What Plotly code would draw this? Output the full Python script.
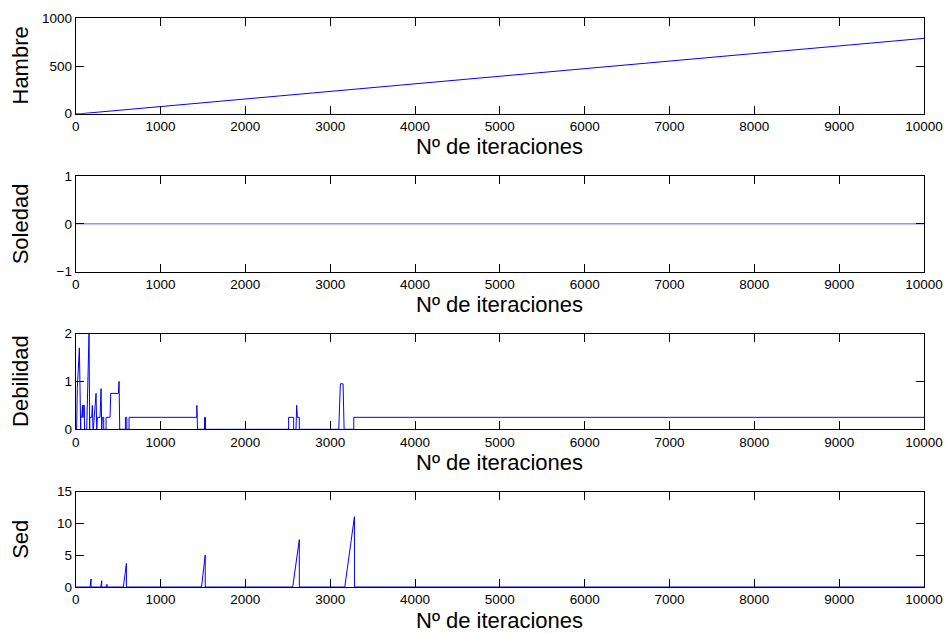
import plotly.graph_objects as go

W, H = 947, 633

# ---------------- data ----------------
x_ticks = [0, 1000, 2000, 3000, 4000, 5000, 6000, 7000, 8000, 9000, 10000]

hambre_x = [0, 60, 10000]
hambre_y = [0, 0, 790]

soledad_x = [0, 10000]
soledad_y = [0, 0]

debilidad_x = [0, 11, 19, 43, 59, 59, 72, 74, 80, 82, 88, 90, 102, 104, 130, 157, 165, 165,
               189, 196, 204, 208, 240, 248, 256, 287, 299, 307, 314, 330, 330, 358, 358,
               405, 413, 503, 511, 519, 586, 586, 602, 602, 629, 629, 1428, 1428, 1436,
               1519, 1519, 1530, 1530, 2510, 2510, 2569, 2569, 2597, 2605, 2613, 2636,
               2636, 3101, 3120, 3152, 3164, 3278, 3278, 10000]
debilidad_y = [0, 0, 0.85, 1.7, 0, 0.25, 0.25, 0.5, 0.5, 0.25, 0.25, 0.5, 0.5, 0, 0, 2.0, 0, 0.25,
               0.25, 0.5, 0, 0, 0.75, 0, 0.25, 0.25, 0.85, 0, 0.25, 0.25, 0, 0, 0.25,
               0.25, 0.75, 0.75, 1.0, 0, 0, 0.25, 0.25, 0, 0, 0.25, 0.25, 0.5, 0,
               0, 0.25, 0.25, 0, 0, 0.25, 0.25, 0, 0, 0.5, 0.25, 0.25,
               0, 0, 0.95, 0.95, 0, 0, 0.25, 0.25]

sed_x = [0, 169, 181, 181, 295, 307, 307, 358, 370, 370, 562, 598, 598, 1483, 1527, 1527,
         2558, 2636, 2636, 3172, 3286, 3286, 10000]
sed_y = [0, 0, 1.26, 0, 0, 1.0, 0, 0, 0.42, 0, 0, 3.73, 0, 0, 5.04, 0,
         0, 7.45, 0, 0, 11.07, 0, 0]

y_labels = ["Hambre", "Soledad", "Debilidad", "Sed"]
y_ranges = [[0, 1000], [-1, 1], [0, 2], [0, 15]]
y_ticks = [[0, 500, 1000], [-1, 0, 1], [0, 1, 2], [0, 5, 10, 15]]
x_title = "Nº de iteraciones"

series = [(hambre_x, hambre_y), (soledad_x, soledad_y),
          (debilidad_x, debilidad_y), (sed_x, sed_y)]

# ---------------- layout geometry (pixels) ----------------
x_left, x_right = 75.7, 924.0
panels_px = [(18.3, 113.7), (176.0, 271.7), (333.5, 429.3), (491.7, 587.0)]
line_colors = ["#0000ff", "#5a5af5", "#0000ff", "#0000ff"]

FONT = "Liberation Sans, Arial, Helvetica, sans-serif"

fig = go.Figure()
layout = dict(
    width=W, height=H,
    margin=dict(l=0, r=0, t=0, b=0),
    paper_bgcolor="white", plot_bgcolor="white",
    showlegend=False,
    template="none",
    font=dict(family=FONT, color="black", size=13.5),
)
annotations = []

for i, ((xs, ys), (top, bot)) in enumerate(zip(series, panels_px)):
    n = "" if i == 0 else str(i + 1)
    fig.add_trace(go.Scatter(x=xs, y=ys, mode="lines",
                             line=dict(color=line_colors[i], width=1),
                             xaxis="x" + n, yaxis="y" + n, hoverinfo="skip"))
    axcommon = dict(showline=True, linecolor="black", linewidth=1, mirror="allticks",
                    ticks="inside", ticklen=8, tickcolor="black", tickwidth=1,
                    showgrid=False, zeroline=False,
                    tickfont=dict(family=FONT, size=13.5, color="black"))
    layer = "below traces" if i == 3 else "above traces"
    layout["xaxis" + n] = dict(axcommon, domain=[x_left / W, x_right / W],
                               range=[0, 10000], tickvals=x_ticks,
                               ticktext=[str(v) for v in x_ticks],
                               anchor="y" + n, layer=layer)
    layout["yaxis" + n] = dict(axcommon, domain=[1 - bot / H, 1 - top / H],
                               range=y_ranges[i], tickvals=y_ticks[i],
                               anchor="x" + n)
    annotations.append(dict(text=x_title, xref="paper", yref="paper",
                            x=(x_left + x_right) / 2 / W, y=1 - (bot + 33) / H,
                            xanchor="center", yanchor="middle", showarrow=False,
                            font=dict(family=FONT, size=22, color="black")))
    annotations.append(dict(text=y_labels[i], xref="paper", yref="paper",
                            x=20.5 / W, y=1 - (top + bot) / 2 / H, textangle=-90,
                            xanchor="center", yanchor="middle", showarrow=False,
                            font=dict(family=FONT, size=22, color="black")))

layout["annotations"] = annotations
fig.update_layout(**layout)
fig.write_html("out.html")
